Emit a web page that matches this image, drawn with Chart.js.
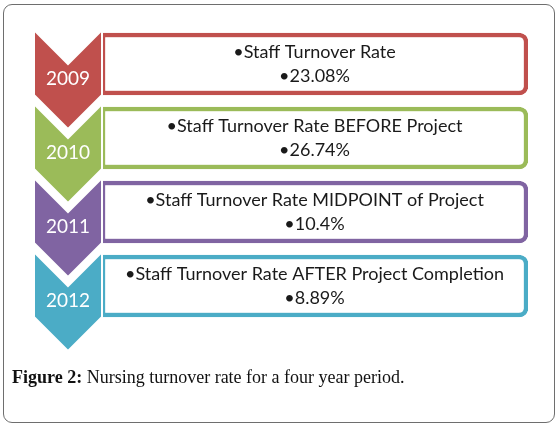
<!DOCTYPE html>
<html>
<head>
<meta charset="utf-8">
<script src="https://cdn.jsdelivr.net/npm/chart.js@4"></script>
<style>
  html, body { margin: 0; padding: 0; background: #fff; }
  body { width: 560px; height: 427px; position: relative; overflow: hidden; }
  #frame { position: absolute; left: 3px; top: 4px; width: 550px; height: 417px;
           border: 1.5px solid #6e6e6e; border-radius: 9px; }
  #wrap { position: absolute; left: 0; top: 0; width: 560px; height: 427px; }
  #caption { position: absolute; left: 12px; top: 367px; font-family: "Liberation Serif", "Times New Roman", serif;
             font-size: 18px; color: #111; white-space: nowrap; }
  #caption b { font-weight: bold; }
</style>
</head>
<body>
<div id="frame"></div>
<div id="wrap"><canvas id="c" width="560" height="427"></canvas></div>
<div id="caption"><b>Figure 2:</b> Nursing turnover rate for a four year period.</div>
<script>
// ---- data ----
const years = ["2009", "2010", "2011", "2012"];
const descriptions = [
  "Staff Turnover Rate",
  "Staff Turnover Rate BEFORE Project",
  "Staff Turnover Rate MIDPOINT of Project",
  "Staff Turnover Rate AFTER Project Completion"
];
const rates = [23.08, 26.74, 10.4, 8.89];
const rateLabels = ["23.08%", "26.74%", "10.4%", "8.89%"];
const colors = ["#C0504D", "#9BBB59", "#8064A2", "#4BACC6"];
const boxSpan = [1, 1, 1, 1];

const chevronPlugin = {
  id: "chevrons",
  afterDatasetsDraw(chart) {
    const { ctx, chartArea, scales } = chart;
    const y = scales.y;
    ctx.save();
    years.forEach((yr, i) => {
      const cy = y.getPixelForValue(i);
      const xR = chartArea.left + 1, xL = xR - 68, xM = (xL + xR) / 2;
      const top = cy - 34, bot = cy + 31, d = 34;
      ctx.beginPath();
      ctx.moveTo(xL, top);
      ctx.lineTo(xM, top + d);
      ctx.lineTo(xR, top);
      ctx.lineTo(xR, bot);
      ctx.lineTo(xM, bot + d);
      ctx.lineTo(xL, bot);
      ctx.closePath();
      ctx.fillStyle = colors[i];
      ctx.fill();
      ctx.lineWidth = 2;
      ctx.strokeStyle = "#ffffff";
      ctx.stroke();
      ctx.fillStyle = "#ffffff";
      ctx.font = "19px Lato";
      ctx.textAlign = "center";
      ctx.textBaseline = "middle";
      ctx.fillText(yr, xM, cy + 15);
    });
    const cx = (chartArea.left + chartArea.right) / 2;
    ctx.fillStyle = "#1a1a1a";
    ctx.font = "18px Lato";
    ctx.textAlign = "center";
    ctx.textBaseline = "middle";
    years.forEach((yr, i) => {
      const cy = y.getPixelForValue(i);
      ctx.fillText("\u2022" + descriptions[i], cx, cy - 12);
      ctx.fillText("\u2022" + rateLabels[i], cx, cy + 12);
    });
    ctx.restore();
  }
};

new Chart(document.getElementById("c"), {
  type: "bar",
  data: {
    labels: years,
    datasets: [{
      label: "Staff Turnover Rate (%)",
      data: boxSpan,
      rates: rates,
      backgroundColor: "#ffffff",
      borderColor: colors,
      borderWidth: 4.5,
      borderSkipped: false,
      borderRadius: { topLeft: 0, bottomLeft: 0, topRight: 9, bottomRight: 9 },
      barThickness: 62
    }]
  },
  options: {
    indexAxis: "y",
    responsive: false,
    animation: false,
    layout: { padding: { left: 101, right: 32, top: 27, bottom: 104 } },
    scales: {
      x: { display: false, min: 0, max: 1 },
      y: { display: false, offset: true }
    },
    plugins: { legend: { display: false }, tooltip: { enabled: false } }
  },
  plugins: [chevronPlugin]
});
</script>
</body>
</html>
